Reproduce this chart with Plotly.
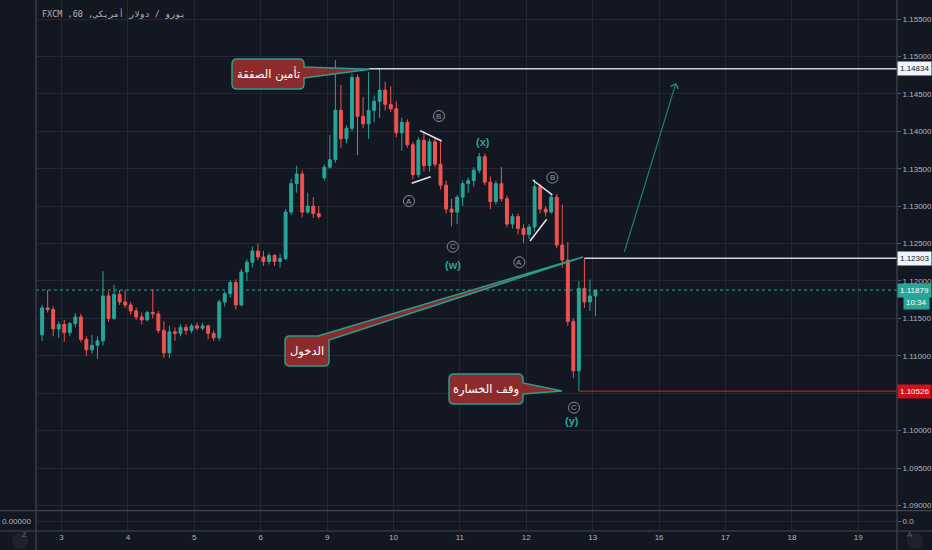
import plotly.graph_objects as go

# EUR/USD 60 min, FXCM -- bars grouped by 2 hours
days = ["3", "4", "5", "6", "9", "10", "11", "12", "13", "16", "17", "18", "19"]
bars_per_day = 12
first_bar = -4  # first bar opens 16:00 on the day before "3"

opens = [
    1.1128, 1.1164, 1.1162, 1.1136, 1.1142, 1.1131, 1.1143, 1.1152, 1.1122, 1.1108,
    1.1114, 1.1120, 1.1180, 1.1150, 1.1182, 1.1172, 1.1168, 1.1160, 1.1152, 1.1148,
    1.1158, 1.1156, 1.1134, 1.1104, 1.1132, 1.1130, 1.1138, 1.1134, 1.1140, 1.1137,
    1.1140, 1.1130, 1.1124, 1.1172, 1.1183, 1.1198, 1.1168, 1.1212, 1.1225, 1.1240,
    1.1232, 1.1226, 1.1234, 1.1226, 1.1230, 1.1292, 1.1330, 1.1343, 1.1292, 1.1300,
    1.1290, 1.1338, 1.1352, 1.1362, 1.1428, 1.1390, 1.1404, 1.1472, 1.1420, 1.1410,
    1.1428, 1.1440, 1.1455, 1.1436, 1.1430, 1.1398, 1.1412, 1.1382, 1.1342, 1.1388,
    1.1354, 1.1386, 1.1356, 1.1328, 1.1296, 1.1292, 1.1312, 1.1330, 1.1334, 1.1348,
    1.1366, 1.1332, 1.1306, 1.1330, 1.1310, 1.1276, 1.1286, 1.1270, 1.1262, 1.1272,
    1.1326, 1.1296, 1.1292, 1.1312, 1.1248, 1.1228, 1.1146, 1.1080, 1.1190, 1.1172,
    1.1180,
]
highs = [
    1.1168, 1.1188, 1.1166, 1.1146, 1.1148, 1.1145, 1.1157, 1.1156, 1.1126, 1.1128,
    1.1126, 1.1213, 1.1186, 1.1195, 1.1188, 1.1188, 1.1172, 1.1164, 1.1158, 1.1160,
    1.1189, 1.1160, 1.1146, 1.1140, 1.1138, 1.1142, 1.1142, 1.1143, 1.1144, 1.1144,
    1.1142, 1.1134, 1.1175, 1.1186, 1.1201, 1.1202, 1.1216, 1.1229, 1.1246, 1.1250,
    1.1240, 1.1238, 1.1236, 1.1236, 1.1296, 1.1337, 1.1354, 1.1348, 1.1318, 1.1312,
    1.1300, 1.1356, 1.1395, 1.1495, 1.1462, 1.1408, 1.1477, 1.1476, 1.1446, 1.1479,
    1.1448, 1.14834, 1.1466, 1.1460, 1.1440, 1.1418, 1.1416, 1.1386, 1.1392, 1.1400,
    1.1390, 1.1392, 1.1386, 1.1334, 1.1310, 1.1315, 1.1334, 1.1338, 1.1352, 1.1371,
    1.1370, 1.1340, 1.1334, 1.1352, 1.1314, 1.1290, 1.1290, 1.1276, 1.1276, 1.1336,
    1.1330, 1.1300, 1.1316, 1.1316, 1.1302, 1.1252, 1.1150, 1.1200, 1.12303, 1.1202,
    1.1188,
]
lows = [
    1.1120, 1.1158, 1.1126, 1.1124, 1.1119, 1.1126, 1.1138, 1.1118, 1.1100, 1.1103,
    1.1096, 1.1114, 1.1145, 1.1148, 1.1168, 1.1164, 1.1155, 1.1148, 1.1142, 1.1146,
    1.1150, 1.1130, 1.1097, 1.1097, 1.1120, 1.1126, 1.1128, 1.1130, 1.1134, 1.1134,
    1.1122, 1.1120, 1.1120, 1.1166, 1.1178, 1.1162, 1.1166, 1.1200, 1.1218, 1.1228,
    1.1220, 1.1222, 1.1220, 1.1218, 1.1228, 1.1288, 1.1318, 1.1285, 1.1290, 1.1284,
    1.1283, 1.1334, 1.1350, 1.1358, 1.1378, 1.1384, 1.1400, 1.1368, 1.1404, 1.1390,
    1.1412, 1.1418, 1.1428, 1.1426, 1.1392, 1.1374, 1.1378, 1.1336, 1.1338, 1.1346,
    1.1346, 1.1352, 1.1322, 1.1290, 1.1273, 1.1276, 1.1300, 1.1318, 1.1326, 1.1344,
    1.1328, 1.1296, 1.1302, 1.1306, 1.1272, 1.1270, 1.1262, 1.1251, 1.1256, 1.1266,
    1.1290, 1.1286, 1.1290, 1.1244, 1.1218, 1.1140, 1.1070, 1.1053, 1.1164, 1.1160,
    1.1153,
]
closes = [
    1.1164, 1.1162, 1.1136, 1.1142, 1.1131, 1.1143, 1.1152, 1.1122, 1.1108, 1.1114,
    1.1120, 1.1180, 1.1150, 1.1182, 1.1172, 1.1168, 1.1160, 1.1152, 1.1148, 1.1158,
    1.1156, 1.1134, 1.1104, 1.1132, 1.1130, 1.1138, 1.1134, 1.1140, 1.1137, 1.1140,
    1.1130, 1.1124, 1.1172, 1.1183, 1.1198, 1.1168, 1.1212, 1.1225, 1.1240, 1.1232,
    1.1226, 1.1234, 1.1226, 1.1230, 1.1292, 1.1330, 1.1343, 1.1292, 1.1300, 1.1290,
    1.1286, 1.1352, 1.1362, 1.1428, 1.1390, 1.1404, 1.1472, 1.1420, 1.1410, 1.1428,
    1.1440, 1.1455, 1.1436, 1.1430, 1.1398, 1.1412, 1.1382, 1.1342, 1.1388, 1.1354,
    1.1386, 1.1356, 1.1328, 1.1296, 1.1292, 1.1312, 1.1330, 1.1334, 1.1348, 1.1366,
    1.1332, 1.1306, 1.1330, 1.1310, 1.1276, 1.1286, 1.1270, 1.1262, 1.1272, 1.1326,
    1.1296, 1.1292, 1.1312, 1.1248, 1.1228, 1.1146, 1.1080, 1.1190, 1.1172, 1.1180,
    1.11879,
]

take_profit = 1.14834
entry = 1.12303
stop_loss = 1.10526
last_price = 1.11879
countdown = "10:34"
tp_bar, stop_bar, entry_bar = 59, 97, 98

# price scale 1.09000 .. 1.15500; the 1.10500 label sits under the stop tag
price_ticks = [1.090, 1.095, 1.100, 1.105, 1.110, 1.115, 1.120, 1.125,
               1.130, 1.135, 1.140, 1.145, 1.150, 1.155]
hidden_ticks = [1.105]

symbol_title = "\u202bيورو / دولار أمريكي, 60, FXCM\u202c"
tp_text = "تأمين الصفقة"
entry_text = "الدخول"
stop_text = "وقف الخسارة"

# elliott wave labels: (text, day position, price)
circled = [("A", 5.233, 1.13068), ("B", 5.685, 1.14204), ("C", 5.892, 1.12458),
           ("A", 6.895, 1.12250), ("B", 7.392, 1.13380), ("C", 7.718, 1.10307)]
degree = [("(w)", 5.892, 1.12213), ("(x)", 6.348, 1.13861), ("(y)", 7.693, 1.10133)]
# white trend lines (t0, p0, t1, p1)
trendlines = [(5.399, 1.14008, 5.726, 1.13870), (5.274, 1.13305, 5.560, 1.13393),
              (7.096, 1.13349, 7.392, 1.13149), (7.056, 1.12534, 7.307, 1.12824)]
target_arrow = (8.471, 1.12370, 9.255, 1.14649)

BG = "#131722"
GRID = "#242833"
TXT = "#b2b5be"
UP, DOWN = "#26a69a", "#ef5350"
CALLOUT_FILL, CALLOUT_EDGE = "#8c2b2b", "#2a9d8f"
FONT = "Liberation Sans"
AR_FONT = "DejaVu Sans"

W, H = 932, 550
ML, MR, MT, MB = 36, 35, 0, 19
PW, PH = W - ML - MR, H - MT - MB


# pixel position in the frame -> axis units (scales fixed below)
def dx(px):
    return (px - 61.5) / 66.4


def dy(py):
    return 1.155 - (py - 19) / 7485


def pt(px, py):
    return f"{dx(px):.5f},{dy(py):.6f}"


X_RANGE = [dx(ML), dx(ML + PW)]
Y_RANGE = [dy(510), dy(0)]

x = [(first_bar + i + 0.5) / bars_per_day for i in range(len(closes))]

fig = go.Figure(go.Candlestick(
    x=x, open=opens, high=highs, low=lows, close=closes,
    xaxis="x2", yaxis="y",
    increasing=dict(line=dict(color=UP, width=1), fillcolor=UP),
    decreasing=dict(line=dict(color=DOWN, width=1), fillcolor=DOWN),
    hoverinfo="skip", showlegend=False,
))

shapes = []
annotations = []


def hline(x0, x1, y, color, width=1, dash="solid"):
    shapes.append(dict(type="line", xref="x2", yref="y", x0=x0, x1=x1, y0=y, y1=y,
                       line=dict(color=color, width=width, dash=dash)))


hline(X_RANGE[0], X_RANGE[1], last_price, UP, 1, "dot")
hline(x[tp_bar], X_RANGE[1], take_profit, "#d1d4dc", 1.5)
hline(x[entry_bar], X_RANGE[1], entry, "#d1d4dc", 1.5)
hline(x[stop_bar], X_RANGE[1], stop_loss, "#9b1c20", 1.5)

for t0, p0, t1, p1 in trendlines:
    shapes.append(dict(type="line", xref="x2", yref="y", x0=t0, y0=p0, x1=t1, y1=p1,
                       line=dict(color="#e8e8e8", width=1.5)))


def callout(path, cx, cy, text):
    shapes.append(dict(type="path", xref="x2", yref="y", path=path,
                       fillcolor=CALLOUT_FILL, line=dict(color=CALLOUT_EDGE, width=1.5),
                       layer="above"))
    annotations.append(dict(xref="x2", yref="y", x=dx(cx), y=dy(cy), text=text,
                            showarrow=False, font=dict(family=AR_FONT, size=11.5, color="white")))


def box_path(x0, y0, x1, y1, right_tail=None, corner_tail=None, r=5):
    p = [f"M{pt(x0 + r, y0)}"]
    if corner_tail:
        a, b, tip = corner_tail
        p += [f"L{pt(a, y0)}", f"L{pt(*tip)}", f"L{pt(x1, b)}"]
    else:
        p += [f"L{pt(x1 - r, y0)}", f"Q{pt(x1, y0)} {pt(x1, y0 + r)}"]
        if right_tail:
            a, b, tip = right_tail
            p += [f"L{pt(x1, a)}", f"L{pt(*tip)}", f"L{pt(x1, b)}"]
    p += [f"L{pt(x1, y1 - r)}", f"Q{pt(x1, y1)} {pt(x1 - r, y1)}",
          f"L{pt(x0 + r, y1)}", f"Q{pt(x0, y1)} {pt(x0, y1 - r)}",
          f"L{pt(x0, y0 + r)}", f"Q{pt(x0, y0)} {pt(x0 + r, y0)}", "Z"]
    return " ".join(p)


callout(box_path(232, 59, 304, 89, right_tail=(67, 78, (370, 69.3))), 268, 74, tp_text)
callout(box_path(285, 336, 329, 366, corner_tail=(318, 340, (583, 257))), 307, 351, entry_text)
callout(box_path(449, 374, 523, 404, right_tail=(383, 394, (562, 391))), 486, 389, stop_text)

rx, ry = 5.5 / 66.4, 5.5 / 7485
for letter, t, p in circled:
    shapes.append(dict(type="circle", xref="x2", yref="y", x0=t - rx, x1=t + rx,
                       y0=p - ry, y1=p + ry, line=dict(color="#8a8d96", width=1)))
    annotations.append(dict(xref="x2", yref="y", x=t, y=p, text=letter, showarrow=False,
                            font=dict(family=FONT, size=8, color="#9598a1")))
for label, t, p in degree:
    annotations.append(dict(xref="x2", yref="y", x=t, y=p, text=f"<b>{label}</b>",
                            showarrow=False, font=dict(family=FONT, size=11, color=UP)))

t0, p0, t1, p1 = target_arrow
annotations.append(dict(xref="x2", yref="y", axref="x2", ayref="y", x=t1, y=p1, ax=t0, ay=p0,
                        text="", showarrow=True, arrowhead=4, arrowsize=1.3, arrowwidth=1.2,
                        arrowcolor="#1f7d73"))


def price_tag(level, bg, fg):
    annotations.append(dict(xref="paper", x=1, xanchor="left", yref="y", y=level,
                            text=f"{level:.5f}", showarrow=False, bgcolor=bg, borderpad=2,
                            font=dict(family=FONT, size=8, color=fg)))


price_tag(take_profit, "#f0f3fa", BG)
price_tag(entry, "#f0f3fa", BG)
price_tag(last_price, UP, "white")
price_tag(stop_loss, "#d0101a", "white")
annotations.append(dict(xref="paper", x=(930 - ML) / PW, xanchor="right", yref="y", y=last_price,
                        yshift=-12, text=countdown, showarrow=False, bgcolor=UP, borderpad=2,
                        font=dict(family=FONT, size=8, color="white")))

annotations.append(dict(xref="paper", yref="paper", x=0, y=1, xanchor="left", yanchor="top",
                        xshift=4, yshift=-6, text=symbol_title, showarrow=False,
                        font=dict(family="DejaVu Sans Mono", size=8.5, color=TXT)))
annotations.append(dict(xref="paper", x=0, xanchor="right", xshift=-3, yref="y2", y=0,
                        text="0.00000", showarrow=False, font=dict(family=FONT, size=8, color=TXT)))

# icons in the corners of the time scale
for px, letter in ((20, "Z"), (915, "A")):
    cx, cy = (px - ML) / PW, (PH - 541) / PH
    shapes.append(dict(type="circle", xref="paper", yref="paper",
                       x0=cx - 8 / PW, x1=cx + 8 / PW, y0=cy - 8 / PH, y1=cy + 8 / PH,
                       fillcolor="#1e222d", line=dict(width=0)))
    annotations.append(dict(xref="paper", yref="paper", x=cx, y=cy, text=letter, showarrow=False,
                            font=dict(family=FONT, size=8, color="#5d606b")))

# pane borders
for yp in ((PH - 510.7) / PH, 0):
    shapes.append(dict(type="line", xref="paper", yref="paper", x0=-ML / PW, x1=(W - ML) / PW,
                       y0=yp, y1=yp, line=dict(color="#434651", width=1.2)))
for xp in (0, 1):
    shapes.append(dict(type="line", xref="paper", yref="paper", x0=xp, x1=xp,
                       y0=-MB / PH, y1=1, line=dict(color="#434651", width=1.2)))

fig.update_layout(
    width=W, height=H,
    margin=dict(l=ML, r=MR, t=MT, b=MB),
    paper_bgcolor=BG, plot_bgcolor=BG,
    font=dict(family=FONT, size=8, color=TXT),
    showlegend=False,
    hovermode=False,
    boxgap=0.25,
    xaxis=dict(domain=[0, 1], anchor="y2", range=X_RANGE,
               tickvals=list(range(len(days))), ticktext=days,
               showgrid=True, gridcolor=GRID, zeroline=False, ticks="",
               tickfont=dict(size=8, color=TXT), rangeslider=dict(visible=False)),
    xaxis2=dict(matches="x", anchor="y", tickvals=list(range(len(days))),
                showticklabels=False, showgrid=True, gridcolor=GRID, zeroline=False,
                rangeslider=dict(visible=False)),
    yaxis=dict(domain=[(PH - 510) / PH, 1], anchor="x2", side="right", range=Y_RANGE,
               tickvals=price_ticks,
               ticktext=["" if v in hidden_ticks else f"{v:.5f}" for v in price_ticks],
               showgrid=True, gridcolor=GRID,
               zeroline=False, ticks="outside", ticklen=3, tickcolor="#5d606b",
               tickfont=dict(size=8, color=TXT)),
    yaxis2=dict(domain=[0, 20 / PH], anchor="x", side="right", range=[-1, 1],
                tickvals=[0], ticktext=["0.0"], showgrid=True, gridcolor=GRID,
                zeroline=False, ticks="outside", ticklen=3, tickcolor="#5d606b",
                tickfont=dict(size=8, color=TXT)),
    shapes=shapes,
    annotations=annotations,
)

# the page must start at the window corner, like the screenshot
fig.write_html("out.html", config={"displayModeBar": False},
               post_script="document.body.style.margin='0';"
                           "document.body.style.overflow='hidden';")
